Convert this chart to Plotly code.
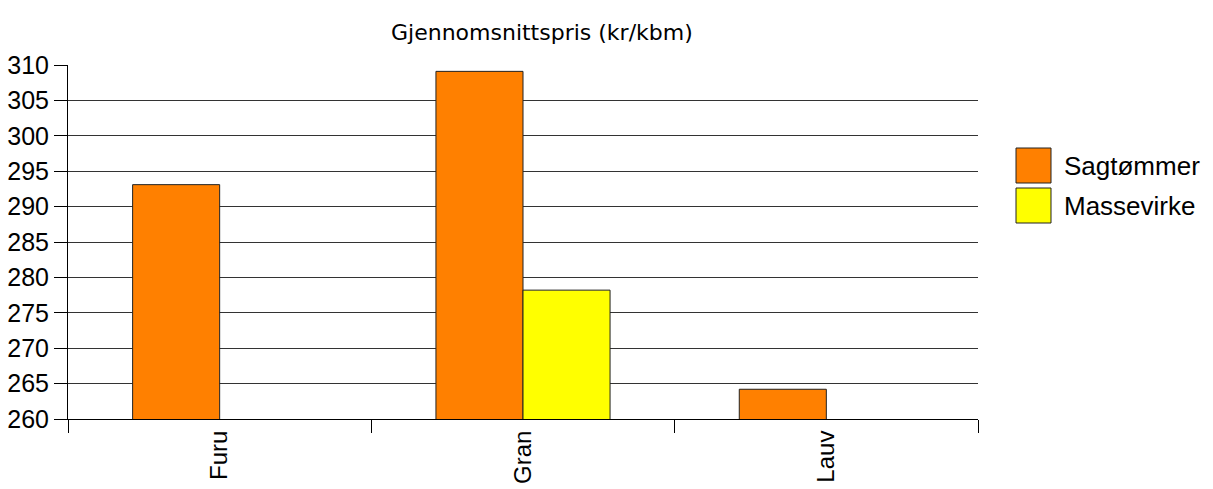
import plotly.graph_objects as go

# Average price per cubic metre by tree species and assortment
categories = ["Furu", "Gran", "Lauv"]
sagtommer = [293.1, 309.1, 264.2]
massevirke = [None, 278.2, None]
series_names = ["Sagtømmer", "Massevirke"]
series_colors = ["#FF8000", "#FFFF00"]
y_ticks = [260, 265, 270, 275, 280, 285, 290, 295, 300, 305, 310]

W, H = 1213, 489
L, R, T, B = 68, 235, 65, 70

fig = go.Figure()
for name, vals, col in zip(series_names, [sagtommer, massevirke], series_colors):
    fig.add_trace(go.Bar(
        x=categories, y=vals, name=name,
        marker=dict(color=col, line=dict(color="#222222", width=1)),
        showlegend=False,
    ))

sans = "Liberation Sans, Arial, sans-serif"
y_font = dict(family=sans, size=25, color="#000000")
x_font = dict(family=sans, size=24, color="#000000")

fig.update_layout(
    width=W, height=H,
    margin=dict(l=L, r=R, t=T, b=B, pad=0),
    paper_bgcolor="white", plot_bgcolor="white",
    barmode="group", bargap=0.426, bargroupgap=0,
    font=y_font,
    xaxis=dict(
        type="category", tickson="boundaries", ticks="outside", ticklen=13,
        tickcolor="#000000", tickwidth=1, tickangle=-90, tickfont=x_font,
        ticklabelstandoff=1,
        showline=True, linecolor="#000000", linewidth=1,
        showgrid=False, range=[-0.5, 2.5], automargin=False,
    ),
    yaxis=dict(
        range=[260, 310], tickmode="array", tickvals=y_ticks,
        ticktext=[str(v) for v in y_ticks],
        ticks="outside", ticklen=13, tickcolor="#000000", tickwidth=1,
        tickfont=y_font, showline=True, linecolor="#000000", linewidth=1,
        showgrid=True, gridcolor="#333333", gridwidth=1, zeroline=False,
        automargin=False,
    ),
    showlegend=False,
)

# Chart title
fig.add_annotation(
    text="Gjennomsnittspris (kr/kbm)", xref="paper", yref="paper",
    x=(542 - L) / (W - L - R), y=1 + (T - 33) / (H - T - B),
    xanchor="center", yanchor="middle", showarrow=False,
    font=dict(family="DejaVu Sans, Verdana, sans-serif", size=22, color="#000000"),
)

# Legend drawn as boxes with labels
pw, ph = W - L - R, H - T - B
def px_x(x):
    return (x - L) / pw
def px_y(y):
    return 1 - (y - T) / ph

for i, (name, col) in enumerate(zip(series_names, series_colors)):
    y0 = 148 + i * 40
    fig.add_shape(
        type="rect", xref="paper", yref="paper",
        x0=px_x(1016), x1=px_x(1051), y0=px_y(y0 + 35), y1=px_y(y0),
        fillcolor=col, line=dict(color="#222222", width=1),
    )
    fig.add_annotation(
        text=name, xref="paper", yref="paper",
        x=px_x(1062), y=px_y(y0 + 17.5), xanchor="left", yanchor="middle",
        showarrow=False, font=dict(family=sans, size=26, color="#000000"),
    )

fig.write_html("out.html")
